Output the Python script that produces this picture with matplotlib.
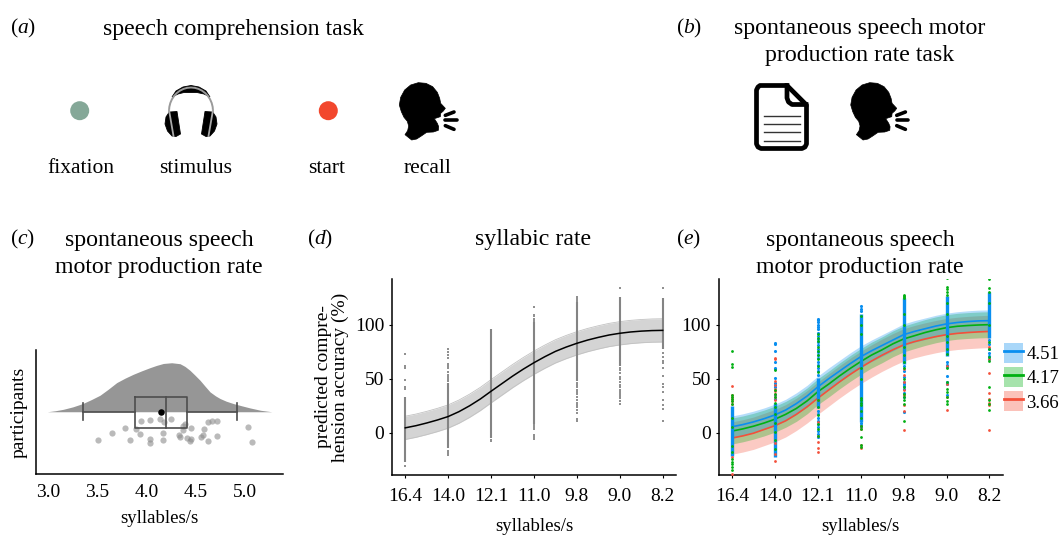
import numpy as np
import matplotlib
matplotlib.use('Agg')
import matplotlib.pyplot as plt
from matplotlib.patches import Circle, Polygon, Patch
from matplotlib.lines import Line2D
from matplotlib.legend_handler import HandlerTuple

plt.rcParams['font.family'] = ['Liberation Serif']
plt.rcParams['mathtext.fontset'] = 'custom'
plt.rcParams['mathtext.rm'] = 'Liberation Serif'
plt.rcParams['mathtext.it'] = 'Liberation Serif:italic'

# panel c
dens_x = [2.99, 3.07, 3.153, 3.25, 3.35, 3.44, 3.526, 3.61, 3.696, 3.78, 3.865, 3.95, 4.035, 4.10, 4.17,
          4.255, 4.34, 4.39, 4.44, 4.49, 4.543, 4.595, 4.645, 4.70, 4.747, 4.81, 4.883, 4.97, 5.052, 5.16, 5.273]
dens_y = [0, 0.02, 0.05, 0.10, 0.167, 0.25, 0.337, 0.46, 0.595, 0.685, 0.765, 0.835, 0.90, 0.945, 0.985,
          1.0, 0.98, 0.925, 0.847, 0.75, 0.643, 0.52, 0.405, 0.325, 0.27, 0.215, 0.167, 0.12, 0.078, 0.03, 0]
rain_x = [3.509, 3.645, 3.781, 3.831, 3.892, 3.936, 3.946, 4.038, 4.038, 4.038, 4.133, 4.174, 4.163, 4.163, 4.248, 4.333, 4.343,
          4.367, 4.374, 4.390, 4.408, 4.455, 4.455, 4.445, 4.550, 4.570, 4.584, 4.625, 4.665, 4.716, 4.716, 4.625, 5.032, 5.072]
rain_y = [-.582, -.439, -.337, -.568, -.344, -.452, -.194, -.173, -.548, -.629, -.153, -.214, -.432, -.582, -.146, -.480, -.514,
          -.296, -.378, -.241, -.534, -.323, -.548, -.595, -.514, -.480, -.344, -.207, -.180, -.187, -.486, -.595, -.310, -.616]
box_q1, box_med, box_q3 = 3.885, 4.194, 4.41
whisk_lo, whisk_hi = 3.35, 4.917
box_mean = 4.146
rate_ticks = [3.0, 3.5, 4.0, 4.5, 5.0]

# panels d and e
rates = ['16.4', '14.0', '12.1', '11.0', '9.8', '9.0', '8.2']
acc_ticks = [0, 50, 100]
curve_d = [4.5, 6.5, 9, 11.8, 15, 19.5, 25, 31.3, 38.5, 45.5, 52.5, 59, 65, 70.5, 75.5, 79.5, 83, 86, 88.5, 90.7, 92.3, 93.5, 94.3, 94.8, 95]
band_d = 10.8
dense_d = [(-27, 33), (-14, 46), (-5, 96), (8, 103), (48, 121), (62, 126), (78, 125)]
sparse_d = [[-31, 41, 42, 49, 60, 62, 73],
            [-21, -19, -17, 48, 50, 52, 54, 56, 60, 62, 64, 69, 72, 75, 78],
            [-8, -7],
            [-6, -4, -2, 3, 5, 7, 104, 106, 108, 109, 117],
            [11, 13, 18, 21, 24, 26, 28, 30, 33, 36, 38, 39, 40, 42, 44, 46, 122, 124, 126],
            [27, 29, 32, 34, 36, 38, 40, 42, 44, 47, 50, 52, 55, 58, 60, 134],
            [11, 22, 26, 30, 38, 42, 45, 53, 60, 65, 67, 70, 74, 134]]

curve_blue = [5.5, 7.5, 10, 13, 16.5, 21, 27, 34, 42.5, 50, 57, 64, 70.5, 76, 81, 86, 91, 94, 96.5, 99, 101, 102.3, 103.2, 103.8, 104]
curve_green = [1.5, 3.5, 6, 9, 12.5, 17, 22.5, 29.5, 38, 45, 52.5, 59.5, 66, 72, 77, 82.5, 87, 90, 93, 95.5, 97.5, 98.8, 99.5, 100, 100.3]
curve_red = [-5, -3, -.5, 3, 6.5, 11, 17, 24, 32, 39.5, 47, 54, 60.5, 66.5, 72, 77, 81.5, 84.5, 87, 89.2, 91, 92.2, 93, 93.6, 94]
band_blue, band_green, band_red = 10, 12, 15
dense_blue = [(-22, 25), (-23, 28), (23, 51), (10, 110), (64, 125), (71, 127), (88, 131)]
sparse_blue = [[-20], [83, 82, 76, 66, 60, 59, 51, 46, 44, 42, 35, 31],
               [106, 105, 103, 100, 98, 96, 93, 90, 87, 84, 81, 78, 75, 72, 69, 66, 63, 60, 57, 54, 20, 17, 14, 11, 8, 5, 2, -1, -4],
               [118, 115, 113, 9, 7, 5],
               [62, 57, 52, 47, 45, 43, 41, 37, 33, 19],
               [66, 63, 61, 53, 47, 46, 45, 35],
               [86, 82, 78, 74, 71, 68]]
sparse_green = [[76, 64, 61, 35, 33, 31, 29, 27, 14, 5, -12, -18, -24, -27, -29, -32, -35],
                [58, 40, 36, 33, 28, 24, 17, 9, 1, -7, -15],
                [92, 88, 85, 80, 76, 72, 68, 62, 56, 30, 24, 16, 8, 3, -3],
                [108, 100, 92, 60, 50, 32, 30, 28, 26, 20, 14, 6, 3, -4, -11, -13],
                [128, 127, 126, 125, 110, 100, 80, 72, 66, 60, 50, 42, 36, 33, 30, 27, 11],
                [144, 135, 133, 131, 128, 120, 110, 90, 84, 78, 73, 60, 47, 41, 38, 33, 29, 27],
                [143, 134, 131, 120, 100, 84, 78, 70, 67, 42, 30, 27, 21]]
sparse_red = [[43, 35, 33, 31, 29, 27, -23, -38],
              [69, 68, 48, 44, 41, 39, 36, 33, 30, -10, -20, -26],
              [30, 10, -3, -9, -14, -18],
              [6, 3, -11, -14],
              [59, 54, 47, 40, 35, 26, 20, 2.5],
              [62, 45, 33, 21],
              [80, 68, 55, 37, 31, 28, 26, 2.5]]
legend_labels = ['4.51', '4.17', '3.66']
BLUE, GREEN, RED = '#0a8ff0', '#00b012', '#f4503a'

W, H = 1060, 535
fig = plt.figure(figsize=(W / 100, H / 100), dpi=100)


def axes_px(left, top, right, bottom):
    return fig.add_axes([left / W, 1 - bottom / H, (right - left) / W, (bottom - top) / H])


def style(ax):
    ax.spines['top'].set_visible(False)
    ax.spines['right'].set_visible(False)
    ax.spines['left'].set_linewidth(1.1)
    ax.spines['bottom'].set_linewidth(1.1)
    ax.patch.set_alpha(0)


def rate_axes(ax):
    style(ax)
    ax.set_xlim(-0.31, 6.31)
    ax.set_ylim(-39.3, 142.7)
    ax.set_xticks(range(len(rates)))
    ax.set_xticklabels(rates)
    ax.set_yticks(acc_ticks)
    ax.tick_params(labelsize=14, length=2.5, width=0.8, pad=7)
    ax.tick_params(axis='y', pad=3)
    ax.set_xlabel('syllables/s', fontsize=13.5, labelpad=9.5)


# overlay in pixel coordinates, for text and icons
bg = fig.add_axes([0, 0, 1, 1])
bg.set_xlim(0, W)
bg.set_ylim(H, 0)
bg.axis('off')


def head(ox):
    outline = [(1215, 224), (1223, 212), (1226, 198), (1222, 184), (1212, 172), (1204, 155), (1198, 135), (1202, 112),
               (1214, 90), (1232, 75), (1255, 68), (1278, 70), (1298, 80), (1312, 97), (1319, 115), (1322, 130),
               (1336, 145), (1330, 153), (1322, 160), (1321, 170), (1303, 176), (1312, 190), (1316, 200), (1315, 211),
               (1300, 216), (1280, 217), (1264, 228), (1250, 237), (1235, 240)]
    bg.add_patch(Polygon([(x / 3 + ox, y / 3 + 60) for x, y in outline], closed=True, fc='black', ec='black', lw=0.5, joinstyle='round'))
    for x0, y0, x1, y1 in [(1336, 166, 1362, 156), (1336, 181, 1370, 181), (1336, 197, 1362, 208)]:
        bg.plot([x0 / 3 + ox, x1 / 3 + ox], [y0 / 3 + 60, y1 / 3 + 60], color='black', lw=2.6, solid_capstyle='round')


head(0)
head(451.4)

# fixation and start dots
bg.add_patch(Circle((79.7, 110.7), 9.5, fc='#85a898', ec='none'))
bg.add_patch(Circle((328.3, 110.7), 9.5, fc='#f2472d', ec='none'))

# headphones
arc_t = np.radians(np.arange(180, 361, 10))
bg.plot(191 + 22 * np.cos(arc_t), 111 + 23.5 * np.sin(arc_t), color='#9a9a9a', lw=1.4)
bg.add_patch(Polygon([(172, 97), (176, 91), (183, 87), (191, 85.5), (199, 87), (206, 91), (210, 97), (204, 94), (197, 92.5), (191, 92.5), (184, 92.5), (178, 94)],
                     closed=True, fc='black', ec='black', lw=0.6))
for sign in (-1, 1):
    cup = [(191 + sign * v, y) for v, y in [(21, 112), (14, 111.5), (10.5, 134), (15, 136.5), (19, 136), (23.5, 131), (26, 124), (25, 117), (22, 112.5)]]
    bg.add_patch(Polygon(cup, closed=True, fc='black', ec='black', lw=0.6, joinstyle='round'))
    bg.plot([191 + sign * 22, 191 + sign * 17.5], [110, 136], color='#a8a8a8', lw=1.3)

# document
doc = [(760, 85.5), (787, 85.5), (806.5, 105), (806.5, 144), (805, 147), (802, 148.5), (761, 148.5), (758, 147), (756.5, 144), (756.5, 90), (758, 87)]
bg.add_patch(Polygon(doc, closed=True, fc='white', ec='black', lw=3.4, joinstyle='round'))
bg.plot([787, 787, 788.5, 792, 806], [85.5, 98, 102, 104.5, 104.5], color='black', lw=3.4, solid_joinstyle='round')
for ly in [116, 124, 132, 140.7]:
    bg.plot([763.5, 799.5], [ly, ly], color='#333333', lw=1.0)

# texts
panel_fs = 15.5
for tag, x, y in [('a', 10, 28), ('b', 676, 28), ('c', 10, 239), ('d', 307, 239), ('e', 676, 239)]:
    bg.text(x, y, r'($\mathit{' + tag + r'}$)', fontsize=panel_fs, va='center', ha='left')
title_fs = 17.2
bg.text(233, 29, 'speech comprehension task', fontsize=title_fs, ha='center', va='center')
bg.text(860, 42, 'spontaneous speech motor\nproduction rate task', fontsize=title_fs, ha='center', va='center', linespacing=1.38)
bg.text(159, 254, 'spontaneous speech\nmotor production rate', fontsize=title_fs, ha='center', va='center', linespacing=1.38)
bg.text(533, 240, 'syllabic rate', fontsize=title_fs, ha='center', va='center')
bg.text(860, 254, 'spontaneous speech\nmotor production rate', fontsize=title_fs, ha='center', va='center', linespacing=1.38)
for lab, x in [('fixation', 81), ('stimulus', 196), ('start', 327), ('recall', 428)]:
    bg.text(x, 168.5, lab, fontsize=15.5, ha='center', va='center')

# (c) raincloud
ax_c = axes_px(36, 350, 283, 474)
style(ax_c)
ax_c.set_xlim(2.875, 5.387)
ax_c.set_ylim(-1.27, 1.26)
ax_c.fill_between(dens_x, 0, dens_y, color='#969696', lw=0)
ax_c.scatter(rain_x, rain_y, s=20, color='#8c8c8c', alpha=0.6, lw=0)
edge = '#4d4d4d'
ax_c.plot([whisk_lo, box_q1], [0, 0], color=edge, lw=1.2)
ax_c.plot([box_q3, whisk_hi], [0, 0], color=edge, lw=1.2)
for wx in (whisk_lo, whisk_hi):
    ax_c.plot([wx, wx], [-0.17, 0.17], color=edge, lw=1.2)
ax_c.plot([box_q1, box_q3, box_q3, box_q1, box_q1], [0.31, 0.31, -0.33, -0.33, 0.31], color=edge, lw=1.2)
ax_c.plot([box_med, box_med], [-0.33, 0.31], color=edge, lw=1.2)
ax_c.scatter([box_mean], [0], s=22, color='black', marker='o', lw=0, zorder=5)
ax_c.set_xticks(rate_ticks)
ax_c.set_xticklabels(['%.1f' % t for t in rate_ticks])
ax_c.set_yticks([])
ax_c.tick_params(axis='x', labelsize=14, length=0, pad=7)
ax_c.set_xlabel('syllables/s', fontsize=13.5, labelpad=7)
ax_c.set_ylabel('participants', fontsize=14, labelpad=6)

# (d) overall curve
grid = np.arange(len(curve_d)) / 4
ax_d = axes_px(392, 279, 676, 475)
rate_axes(ax_d)
mean_d = np.array(curve_d)
ax_d.fill_between(grid, mean_d - band_d, mean_d + band_d, color='#d4d4d4', lw=0, zorder=1)
ax_d.plot(grid, mean_d + band_d, color='#c2c2c2', lw=0.6, zorder=1)
ax_d.plot(grid, mean_d - band_d, color='#c2c2c2', lw=0.6, zorder=1)
for i in range(len(rates)):
    ax_d.vlines(i, dense_d[i][0], dense_d[i][1], color='#848484', lw=1.5, zorder=2)
    ax_d.scatter([i] * len(sparse_d[i]), sparse_d[i], s=3.5, marker='s', color='#909090', lw=0, zorder=2)
ax_d.plot(grid, mean_d, color='black', lw=1.1, zorder=3)
ax_d.set_ylabel('predicted compre-\nhension accuracy (%)', fontsize=14, labelpad=4, linespacing=1.0)

# (e) curves by motor rate
ax_e = axes_px(718.7, 279, 1002.7, 475)
rate_axes(ax_e)
groups = [(curve_red, band_red, RED), (curve_green, band_green, GREEN), (curve_blue, band_blue, BLUE)]
for curve, band, col in groups:
    c = np.array(curve)
    ax_e.fill_between(grid, c - band, c + band, color=col, alpha=0.3, lw=0, zorder=1)
for curve, band, col in groups:
    ax_e.plot(grid, curve, color=col, lw=1.2, zorder=2)
# blue strips lie over the curves, green and red specks show through them
for i in range(len(rates)):
    ax_e.vlines(i, dense_blue[i][0], dense_blue[i][1], color=BLUE, lw=2.4, zorder=3)
    ax_e.scatter([i] * len(sparse_blue[i]), sparse_blue[i], s=5, color=BLUE, lw=0, zorder=3)
    ax_e.scatter([i] * len(sparse_red[i]), sparse_red[i], s=4, color=RED, lw=0, zorder=4)
    ax_e.scatter([i] * len(sparse_green[i]), sparse_green[i], s=4, color=GREEN, lw=0, zorder=4)

handles = [(Patch(fc=col, alpha=0.35, ec='none'), Line2D([], [], color=col, lw=2)) for col in (BLUE, GREEN, RED)]
ax_e.legend(handles, legend_labels, handler_map={tuple: HandlerTuple(ndivide=1, pad=0)}, frameon=False, fontsize=13.5,
            loc='center left', bbox_to_anchor=(1.0, 0.5), handlelength=1.05, handleheight=1.3, labelspacing=0.2,
            handletextpad=0.15, borderaxespad=0.05, borderpad=0)

fig.savefig('out.png', dpi=100)
